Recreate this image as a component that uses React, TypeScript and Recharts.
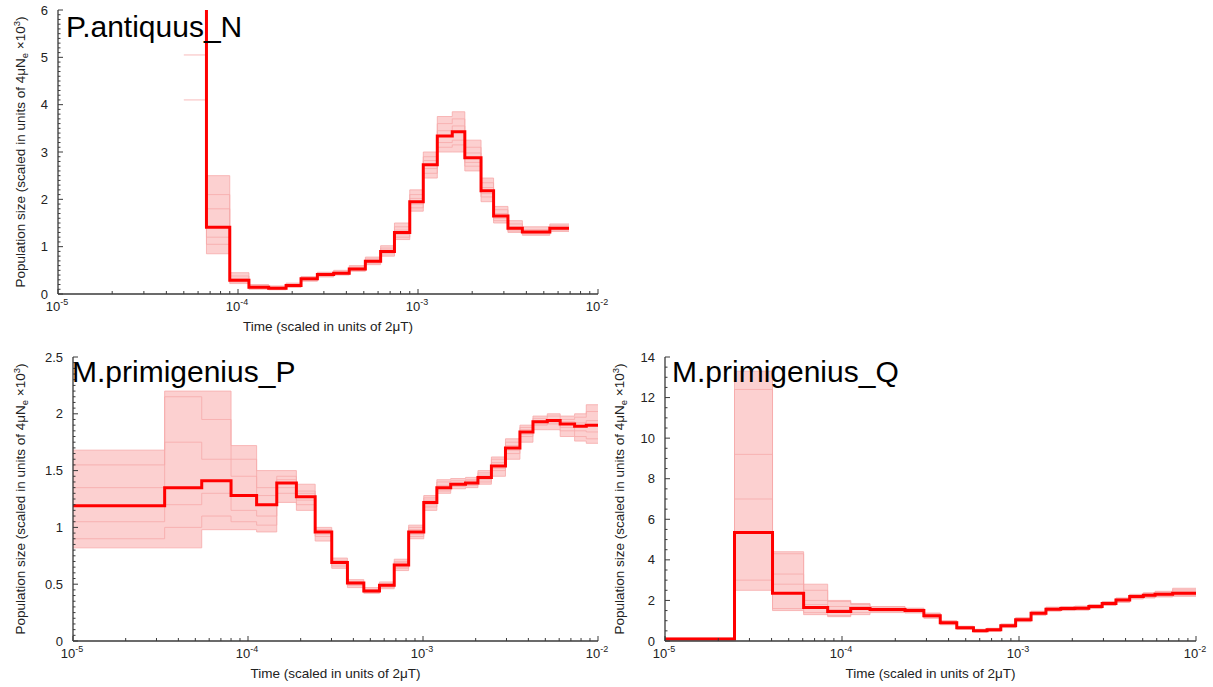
import { ComposedChart, Area, Line, XAxis, YAxis } from 'recharts';

const FONT = '"Liberation Sans", Arial, Helvetica, sans-serif';
const AXIS = '#3a3a3a';
const INK = '#222';
const MAIN_RED = '#ff0000';
const BAND_PINK = '#fcd0d0';
const BOOT_PINK = '#f6aaaa';

// log time axis: labelled decades
const TIME_TICKS = [1e-5, 1e-4, 1e-3, 1e-2];
const TIME_TICK_EXP = ['-5', '-4', '-3', '-2'];

// ---- P.antiquus_N ----
const nTime = [5.0e-5, 6.68e-5, 9.0e-5, 1.15e-4, 1.48e-4, 1.85e-4, 2.24e-4, 2.76e-4, 3.4e-4, 4.15e-4, 5.1e-4, 6.2e-4, 7.4e-4, 9.0e-4, 1.07e-3, 1.28e-3, 1.55e-3, 1.82e-3, 2.24e-3, 2.63e-3, 3.16e-3, 3.8e-3, 5.4e-3, 6.9e-3];
const nMain = [40, 1.41, 0.29, 0.14, 0.12, 0.18, 0.32, 0.41, 0.44, 0.53, 0.69, 0.9, 1.3, 1.95, 2.73, 3.34, 3.43, 2.88, 2.18, 1.65, 1.39, 1.31, 1.39, 1.39];
const nLow = [40, 0.85, 0.22, 0.1, 0.09, 0.14, 0.27, 0.36, 0.4, 0.48, 0.62, 0.8, 1.15, 1.75, 2.45, 3.0, 3.0, 2.6, 1.95, 1.5, 1.3, 1.24, 1.32, 1.32];
const nHigh = [40, 2.5, 0.45, 0.2, 0.17, 0.23, 0.37, 0.46, 0.5, 0.6, 0.78, 1.02, 1.5, 2.2, 3.0, 3.75, 3.85, 3.25, 2.45, 1.85, 1.55, 1.42, 1.48, 1.48];
const nBoot1 = [5.05, 2.1, 0.38, 0.17, 0.15, 0.2, 0.34, 0.44, 0.47, 0.57, 0.74, 0.97, 1.42, 2.1, 2.9, 3.6, 3.7, 3.1, 2.35, 1.78, 1.48, 1.36, 1.44, 1.44];
const nBoot2 = [4.1, 1.05, 0.25, 0.12, 0.1, 0.16, 0.29, 0.38, 0.42, 0.5, 0.65, 0.85, 1.2, 1.82, 2.55, 3.1, 3.15, 2.7, 2.05, 1.55, 1.33, 1.27, 1.35, 1.35];
const nBoot3 = [40, 1.8, 0.33, 0.15, 0.13, 0.19, 0.31, 0.4, 0.45, 0.55, 0.71, 0.93, 1.35, 2.02, 2.82, 3.45, 3.55, 2.98, 2.25, 1.7, 1.42, 1.33, 1.41, 1.41];
const nBoot4 = [40, 1.2, 0.27, 0.13, 0.11, 0.17, 0.3, 0.39, 0.43, 0.51, 0.67, 0.88, 1.26, 1.9, 2.65, 3.2, 3.25, 2.78, 2.12, 1.6, 1.36, 1.29, 1.37, 1.37];
const nYTicks = [0, 1, 2, 3, 4, 5, 6];
const nYLabels = ['0', '1', '2', '3', '4', '5', '6'];

// ---- M.primigenius_P ----
const pTime = [1.0e-5, 3.34e-5, 5.44e-5, 8.0e-5, 1.12e-4, 1.46e-4, 1.89e-4, 2.42e-4, 3.01e-4, 3.7e-4, 4.59e-4, 5.64e-4, 6.85e-4, 8.28e-4, 1.01e-3, 1.2e-3, 1.44e-3, 1.75e-3, 2.06e-3, 2.46e-3, 2.96e-3, 3.58e-3, 4.25e-3, 5.13e-3, 6.08e-3, 7.35e-3, 8.57e-3, 1.0e-2];
const pMain = [1.19, 1.35, 1.41, 1.28, 1.2, 1.39, 1.27, 0.96, 0.69, 0.51, 0.44, 0.49, 0.67, 0.96, 1.22, 1.35, 1.38, 1.39, 1.44, 1.54, 1.7, 1.84, 1.93, 1.94, 1.91, 1.89, 1.9, 1.9];
const pLow = [0.82, 0.82, 0.98, 0.98, 0.96, 1.22, 1.15, 0.88, 0.64, 0.47, 0.42, 0.46, 0.62, 0.9, 1.15, 1.3, 1.34, 1.35, 1.38, 1.45, 1.6, 1.75, 1.86, 1.86, 1.8, 1.76, 1.74, 1.74];
const pHigh = [1.68, 2.2, 2.2, 1.72, 1.5, 1.5, 1.38, 1.0, 0.73, 0.54, 0.47, 0.52, 0.72, 1.02, 1.28, 1.42, 1.43, 1.44, 1.5, 1.62, 1.78, 1.9, 1.98, 2.0, 1.98, 2.0, 2.08, 2.08];
const pBoot1 = [1.55, 2.15, 1.95, 1.6, 1.35, 1.45, 1.32, 0.98, 0.71, 0.52, 0.45, 0.5, 0.7, 1.0, 1.26, 1.4, 1.41, 1.42, 1.48, 1.6, 1.75, 1.88, 1.96, 1.98, 1.95, 1.97, 2.02, 2.02];
const pBoot2 = [0.9, 1.0, 1.1, 1.05, 1.02, 1.3, 1.2, 0.92, 0.66, 0.49, 0.43, 0.47, 0.64, 0.92, 1.18, 1.32, 1.36, 1.37, 1.4, 1.5, 1.65, 1.8, 1.9, 1.91, 1.85, 1.8, 1.78, 1.78];
const pBoot3 = [1.35, 1.75, 1.6, 1.45, 1.28, 1.42, 1.3, 0.97, 0.7, 0.52, 0.45, 0.5, 0.69, 0.98, 1.24, 1.37, 1.39, 1.41, 1.46, 1.57, 1.72, 1.86, 1.94, 1.95, 1.93, 1.92, 1.94, 1.94];
const pBoot4 = [1.05, 1.2, 1.3, 1.15, 1.1, 1.35, 1.24, 0.94, 0.68, 0.5, 0.43, 0.48, 0.65, 0.94, 1.2, 1.33, 1.37, 1.38, 1.42, 1.52, 1.68, 1.82, 1.91, 1.92, 1.88, 1.85, 1.84, 1.84];
const pYTicks = [0, 0.5, 1, 1.5, 2, 2.5];
const pYLabels = ['0', '0.5', '1', '1.5', '2', '2.5'];

// ---- M.primigenius_Q ----
const qTime = [1.0e-5, 2.47e-5, 4.05e-5, 6.07e-5, 8.3e-5, 1.12e-4, 1.44e-4, 2.27e-4, 2.9e-4, 3.59e-4, 4.45e-4, 5.53e-4, 6.6e-4, 7.89e-4, 9.57e-4, 1.17e-3, 1.42e-3, 1.72e-3, 2.07e-3, 2.48e-3, 2.95e-3, 3.53e-3, 4.22e-3, 5.04e-3, 5.87e-3, 7.38e-3, 1.0e-2];
const qMain = [0.1, 5.35, 2.35, 1.65, 1.45, 1.6, 1.55, 1.5, 1.25, 0.9, 0.65, 0.5, 0.55, 0.75, 1.05, 1.37, 1.57, 1.6, 1.62, 1.7, 1.85, 2.02, 2.19, 2.25, 2.3, 2.35, 2.35];
const qLow = [0.05, 2.5, 1.5, 1.3, 1.2, 1.3, 1.4, 1.38, 1.12, 0.8, 0.57, 0.44, 0.47, 0.66, 0.95, 1.27, 1.47, 1.5, 1.52, 1.6, 1.75, 1.9, 2.07, 2.12, 2.17, 2.2, 2.2];
const qHigh = [0.15, 13.3, 4.4, 2.8, 2.0, 1.85, 1.7, 1.62, 1.38, 1.0, 0.73, 0.58, 0.63, 0.84, 1.15, 1.47, 1.67, 1.7, 1.72, 1.8, 1.95, 2.12, 2.3, 2.38, 2.45, 2.6, 2.6];
const qBoot1 = [0.12, 12.4, 4.3, 2.5, 1.95, 1.8, 1.68, 1.6, 1.35, 0.98, 0.7, 0.55, 0.6, 0.82, 1.12, 1.43, 1.64, 1.67, 1.69, 1.77, 1.92, 2.1, 2.27, 2.34, 2.4, 2.52, 2.52];
const qBoot2 = [0.08, 3.0, 1.6, 1.4, 1.25, 1.4, 1.45, 1.42, 1.15, 0.83, 0.6, 0.46, 0.5, 0.69, 0.98, 1.3, 1.5, 1.53, 1.55, 1.63, 1.78, 1.94, 2.1, 2.15, 2.2, 2.25, 2.25];
const qBoot3 = [0.1, 9.2, 3.3, 2.0, 1.7, 1.7, 1.6, 1.55, 1.3, 0.95, 0.68, 0.53, 0.58, 0.79, 1.09, 1.4, 1.6, 1.64, 1.66, 1.73, 1.88, 2.06, 2.23, 2.3, 2.35, 2.45, 2.45];
const qBoot4 = [0.1, 7.0, 2.8, 1.8, 1.55, 1.55, 1.52, 1.47, 1.2, 0.87, 0.62, 0.48, 0.52, 0.72, 1.0, 1.33, 1.53, 1.56, 1.58, 1.66, 1.8, 1.98, 2.14, 2.2, 2.25, 2.3, 2.3];
const qYTicks = [0, 2, 4, 6, 8, 10, 12, 14];
const qYLabels = ['0', '2', '4', '6', '8', '10', '12', '14'];

// minor ticks at 2..9 x 10^k between the labelled decades
const timeMinor: number[] = [];
for (let d = -5; d < -2; d++) {
  for (let k = 2; k < 10; k++) timeMinor.push(k * Math.pow(10, d));
}
const timeTicks = [...TIME_TICKS, ...timeMinor];

function minorTicks(max: number, step: number) {
  const out: number[] = [];
  const n = Math.round(max / step);
  for (let i = 0; i <= n; i++) out.push(Math.round(i * step * 1000) / 1000);
  return out;
}

function isMajor(v: number, majors: number[]) {
  return majors.findIndex((m) => Math.abs(m - v) < 1e-9 * Math.max(1, Math.abs(m)));
}

function TimeTick(props: any) {
  const { x, payload, base, dir, labels } = props;
  const idx = isMajor(payload.value, TIME_TICKS);
  const len = idx >= 0 ? 5 : 3;
  return (
    <g>
      <line x1={x} x2={x} y1={base} y2={base + dir * len} stroke={AXIS} strokeWidth={1} />
      {labels && idx >= 0 && (
        <text x={x - 1} y={base + 17} textAnchor="middle" fontSize={13} fill={INK} fontFamily={FONT}>
          10
          <tspan dy={-6} fontSize={9}>{TIME_TICK_EXP[idx]}</tspan>
        </text>
      )}
    </g>
  );
}

function SizeTick(props: any) {
  const { y, payload, base, majors, labels } = props;
  const idx = isMajor(payload.value, majors);
  const len = idx >= 0 ? 5 : 2.5;
  return (
    <g>
      <line x1={base} x2={base + len} y1={y} y2={y} stroke={AXIS} strokeWidth={1} />
      {idx >= 0 && (
        <text x={base - 10} y={y + 4.5} textAnchor="end" fontSize={13} fill={INK} fontFamily={FONT}>
          {labels[idx]}
        </text>
      )}
    </g>
  );
}

interface PanelProps {
  left: number;
  top: number;
  width: number;
  height: number;
  plotLeft: number;
  plotTop: number;
  plotRight: number;
  plotBottom: number;
  title: string;
  titleX: number;
  titleY: number;
  yTitleX: number;
  times: number[];
  main: number[];
  low: number[];
  high: number[];
  boots: number[][];
  yMax: number;
  yMajors: number[];
  yLabels: string[];
  yMinorStep: number;
}

function PsmcPanel(p: PanelProps) {
  const plotL = p.plotLeft - p.left;
  const plotT = p.plotTop - p.top;
  const plotR = p.plotRight - p.left;
  const plotB = p.plotBottom - p.top;

  const data = p.times.map((t, i) => {
    const row: Record<string, any> = { t, main: p.main[i], band: [p.low[i], p.high[i]] };
    p.boots.forEach((b, j) => {
      row['b' + j] = b[i];
    });
    return row;
  });
  const yTicks = minorTicks(p.yMax, p.yMinorStep);
  const axisLine = { stroke: AXIS, strokeWidth: 1.3 };

  return (
    <div style={{ position: 'absolute', left: p.left, top: p.top, width: p.width, height: p.height }}>
      <ComposedChart
        width={p.width}
        height={p.height}
        data={data}
        margin={{ top: plotT, right: p.width - plotR, bottom: 0, left: 0 }}
      >
        <XAxis
          dataKey="t"
          type="number"
          scale="log"
          domain={[1e-5, 1e-2]}
          allowDataOverflow
          ticks={timeTicks}
          interval={0}
          height={p.height - plotB}
          tickLine={false}
          axisLine={axisLine}
          tick={(tp: any) => <TimeTick {...tp} base={plotB} dir={-1} labels />}
        />
        <XAxis
          xAxisId="top"
          dataKey="t"
          orientation="top"
          type="number"
          scale="log"
          domain={[1e-5, 1e-2]}
          allowDataOverflow
          ticks={timeTicks}
          interval={0}
          height={0}
          tickLine={false}
          axisLine={axisLine}
          tick={(tp: any) => <TimeTick {...tp} base={plotT} dir={1} />}
        />
        <YAxis
          type="number"
          domain={[0, p.yMax]}
          allowDataOverflow
          ticks={yTicks}
          interval={0}
          width={plotL}
          tickLine={false}
          axisLine={axisLine}
          tick={(tp: any) => <SizeTick {...tp} base={plotL} majors={p.yMajors} labels={p.yLabels} />}
        />
        <YAxis
          yAxisId="right"
          orientation="right"
          type="number"
          domain={[0, p.yMax]}
          width={0}
          tick={false}
          tickLine={false}
          axisLine={axisLine}
        />
        <Area
          dataKey="band"
          type="stepAfter"
          fill={BAND_PINK}
          fillOpacity={1}
          stroke={BOOT_PINK}
          strokeOpacity={0.8}
          strokeWidth={1}
          dot={false}
          activeDot={false}
          isAnimationActive={false}
        />
        {p.boots.map((_, j) => (
          <Line
            key={j}
            dataKey={'b' + j}
            type="stepAfter"
            stroke={BOOT_PINK}
            strokeOpacity={0.8}
            strokeWidth={1}
            dot={false}
            activeDot={false}
            isAnimationActive={false}
          />
        ))}
        <Line
          dataKey="main"
          type="stepAfter"
          stroke={MAIN_RED}
          strokeWidth={3}
          dot={false}
          activeDot={false}
          isAnimationActive={false}
        />
      </ComposedChart>
      <svg
        width={p.width}
        height={p.height}
        style={{ position: 'absolute', left: 0, top: 0, pointerEvents: 'none' }}
      >
        <text x={p.titleX - p.left} y={p.titleY - p.top} fontSize={30} fill="#000" fontFamily={FONT}>
          {p.title}
        </text>
        <text
          x={(plotL + plotR) / 2}
          y={plotB + 37}
          textAnchor="middle"
          fontSize={13.5}
          fill={INK}
          fontFamily={FONT}
        >
          Time (scaled in units of 2μT)
        </text>
        <text
          transform={`translate(${p.yTitleX - p.left}, ${(plotT + plotB) / 2}) rotate(-90)`}
          textAnchor="middle"
          fontSize={13.5}
          fill={INK}
          fontFamily={FONT}
        >
          Population size (scaled in units of 4μN
          <tspan dy={3} fontSize={9.5}>e</tspan>
          <tspan dy={-3}> ×10</tspan>
          <tspan dy={-5} fontSize={9.5}>3</tspan>
          <tspan dy={5}>)</tspan>
        </text>
      </svg>
    </div>
  );
}

export default function App() {
  return (
    <div style={{ position: 'absolute', left: 0, top: 0, width: 1213, height: 687, background: '#fff' }}>
      <PsmcPanel
        left={0}
        top={0}
        width={640}
        height={340}
        plotLeft={58}
        plotTop={10}
        plotRight={598}
        plotBottom={294}
        title="P.antiquus_N"
        titleX={66}
        titleY={37}
        yTitleX={25}
        times={nTime}
        main={nMain}
        low={nLow}
        high={nHigh}
        boots={[nBoot1, nBoot2, nBoot3, nBoot4]}
        yMax={6}
        yMajors={nYTicks}
        yLabels={nYLabels}
        yMinorStep={0.1}
      />
      <PsmcPanel
        left={0}
        top={340}
        width={640}
        height={347}
        plotLeft={73}
        plotTop={357}
        plotRight={598}
        plotBottom={641}
        title="M.primigenius_P"
        titleX={72}
        titleY={382}
        yTitleX={25}
        times={pTime}
        main={pMain}
        low={pLow}
        high={pHigh}
        boots={[pBoot1, pBoot2, pBoot3, pBoot4]}
        yMax={2.5}
        yMajors={pYTicks}
        yLabels={pYLabels}
        yMinorStep={0.05}
      />
      <PsmcPanel
        left={600}
        top={340}
        width={613}
        height={347}
        plotLeft={665}
        plotTop={357}
        plotRight={1196}
        plotBottom={641}
        title="M.primigenius_Q"
        titleX={672}
        titleY={382}
        yTitleX={624}
        times={qTime}
        main={qMain}
        low={qLow}
        high={qHigh}
        boots={[qBoot1, qBoot2, qBoot3, qBoot4]}
        yMax={14}
        yMajors={qYTicks}
        yLabels={qYLabels}
        yMinorStep={0.5}
      />
    </div>
  );
}
